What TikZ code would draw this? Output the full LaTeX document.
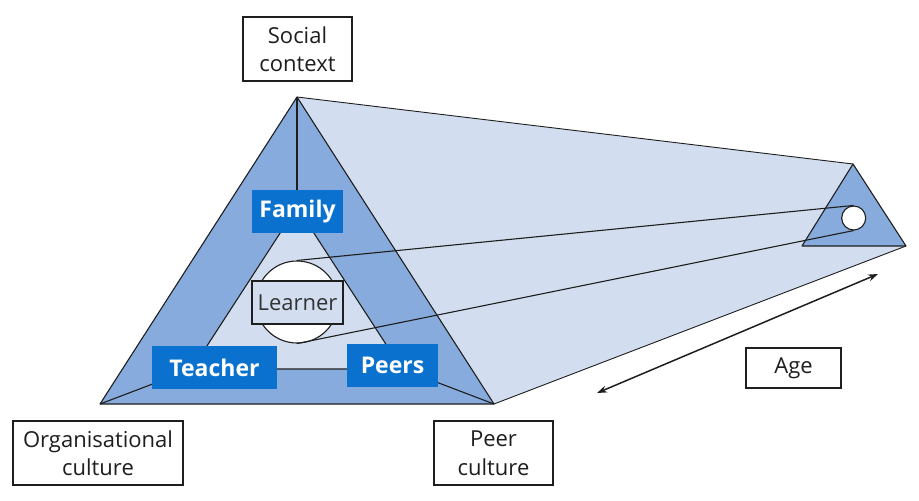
\documentclass[tikz,border=0pt]{standalone}
\usepackage{fontspec}
\setmainfont{Open Sans}
\usetikzlibrary{arrows.meta}
\definecolor{boxblue}{RGB}{10,114,206}
\definecolor{ringblue}{RGB}{134,171,220}
\definecolor{lightblue}{RGB}{210,222,240}
\definecolor{inkc}{RGB}{30,30,30}
\begin{document}
\begin{tikzpicture}[x=1pt,y=-1pt,
  edge/.style={draw=inkc,line width=1.1pt,line join=round},
  thin edge/.style={draw=inkc,line width=0.9pt},
  lbl/.style={draw=inkc,line width=1.8pt,fill=white,align=center,inner sep=0pt,
    font=\fontsize{22}{28.5}\selectfont,text=inkc,minimum height=64pt},
  bluebox/.style={fill=boxblue,text=white,inner sep=0pt,minimum height=43pt,
    font=\fontsize{23}{26}\selectfont\bfseries},
  ball/.style={circle,draw=inkc,line width=1.1pt,fill=white,inner sep=0pt}]
\useasboundingbox (0,0) rectangle (919,501);
% key points
\coordinate (A) at (297,97);
\coordinate (BL) at (100,404);
\coordinate (BR) at (494,404);
\coordinate (iA) at (297,207);
\coordinate (iBL) at (192,369);
\coordinate (iBR) at (402,369);
\coordinate (sA) at (853,164);
\coordinate (sBL) at (802,246);
\coordinate (sBR) at (906,246);
% prism face
\fill[lightblue] (A) -- (sA) -- (sBR) -- (BR) -- cycle;
\draw[thin edge] (A) -- (sA);
\draw[thin edge] (BR) -- (sBR);
% outer ring
\fill[ringblue] (A) -- (BL) -- (BR) -- cycle;
\fill[lightblue] (iA) -- (iBL) -- (iBR) -- cycle;
\draw[edge] (A) -- (BL) -- (BR) -- cycle;
\draw[edge] (iA) -- (iBL) -- (iBR) -- cycle;
\draw[edge] (A) -- (iA);
\draw[edge] (BL) -- (iBL);
\draw[edge] (BR) -- (iBR);
% learner circle
\node[ball,minimum size=82pt] (bigc) at (297,302) {};
% small triangle
\filldraw[fill=ringblue,edge] (sA) -- (sBL) -- (sBR) -- cycle;
\node[ball,minimum size=24pt] (smallc) at (853.7,218) {};
\draw[edge] (bigc.north) -- (smallc.north);
\draw[edge] (bigc.south) -- (smallc.south);
% boxes
\node[lbl,fill=lightblue,minimum width=91pt,minimum height=43pt,text=black!80] (learner) at (297.5,302.5) {Learner};
\node[bluebox,minimum width=91pt] (family) at (297.5,211.5) {Family};
\node[bluebox,minimum width=125pt] (teacher) at (214.5,367.5) {Teacher};
\node[bluebox,minimum width=91pt] (peers) at (392.5,365.5) {Peers};
% labels
\node[lbl,minimum width=109pt] (social) at (297.5,49) {Social\\context};
\node[lbl,minimum width=170pt] (org) at (98,453) {Organisational\\culture};
\node[lbl,minimum width=119pt] (peerc) at (493.5,453) {Peer\\culture};
\node[lbl,minimum width=95pt,minimum height=40pt] (age) at (793.5,368.3) {Age};
% age arrow
\coordinate (ag1) at (597,393);
\coordinate (ag2) at (878,274);
\draw[line width=1.5pt,inkc,{Stealth[length=10pt,width=7pt]}-{Stealth[length=10pt,width=7pt]}] (ag1) -- (ag2);
\end{tikzpicture}
\end{document}
